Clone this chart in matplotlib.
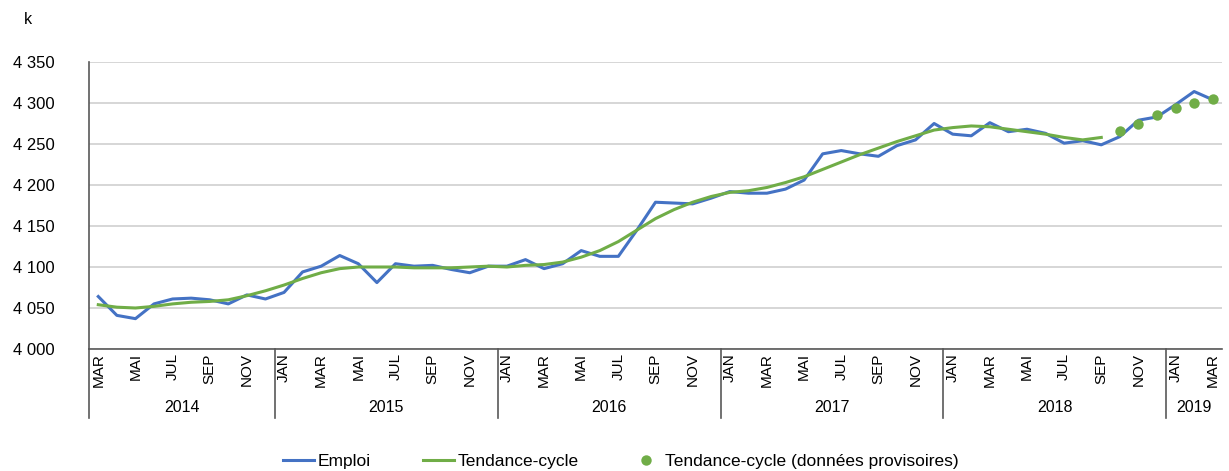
import numpy as np
import matplotlib
matplotlib.use("Agg")
import matplotlib.pyplot as plt
from matplotlib.transforms import blended_transform_factory

BLUE, GREEN, GRID, AXIS = "#4472C4", "#70AD47", "#d0d0d0", "#595959"
FONT = ["Liberation Sans", "DejaVu Sans"]

MOIS = ["JAN", "FEV", "MAR", "AVR", "MAI", "JUN", "JUL", "AOU", "SEP", "OCT", "NOV", "DEC"]
years = [2014] * 10 + [2015] * 12 + [2016] * 12 + [2017] * 12 + [2018] * 12 + [2019] * 3
months = MOIS[2:] + MOIS * 4 + MOIS[:3]

emploi = [4064, 4041, 4037, 4055, 4061, 4062, 4060, 4055, 4066, 4061,
          4069, 4094, 4101, 4114, 4104, 4081, 4104, 4101, 4102, 4097, 4093, 4101,
          4101, 4109, 4098, 4104, 4120, 4113, 4113, 4145, 4179, 4178, 4177, 4184,
          4192, 4190, 4190, 4195, 4206, 4238, 4242, 4238, 4235, 4248, 4255, 4275,
          4262, 4260, 4276, 4265, 4268, 4263, 4251, 4254, 4249, 4259, 4279, 4283,
          4298, 4314, 4304]

tendance = [4054, 4051, 4050, 4052, 4055, 4057, 4058, 4060, 4065, 4071,
            4078, 4086, 4093, 4098, 4100, 4100, 4100, 4099, 4099, 4099, 4100, 4101,
            4100, 4102, 4103, 4106, 4112, 4120, 4131, 4145, 4159, 4170, 4179, 4186,
            4191, 4193, 4197, 4203, 4210, 4219, 4228, 4237, 4245, 4253, 4260, 4267,
            4270, 4272, 4271, 4268, 4265, 4262, 4258, 4255, 4258] + [np.nan] * 6

provisoires = [np.nan] * 55 + [4266, 4275, 4285, 4294, 4300, 4305]

yticks = [4000, 4050, 4100, 4150, 4200, 4250, 4300, 4350]

x = np.arange(len(months))

fig = plt.figure(figsize=(12.29, 4.71), dpi=100, facecolor="white")
ax = fig.add_axes([89 / 1229, 1 - 349 / 471, (1222 - 89) / 1229, (349 - 62) / 471])

ax.plot(x, emploi, color=BLUE, lw=2.2, label="Emploi", zorder=3)
ax.plot(x, tendance, color=GREEN, lw=2.2, label="Tendance-cycle", zorder=4)
ax.plot(x, provisoires, "o", color=GREEN, ms=7.5, mec="none",
        label="Tendance-cycle (données provisoires)", zorder=5)

ax.set_xlim(-0.5, len(months) - 0.5)
ax.set_ylim(yticks[0], yticks[-1])
ax.set_yticks(yticks, [f"{v // 1000} {v % 1000:03d}" for v in yticks],
              fontsize=12, family=FONT)
ax.tick_params(axis="y", length=0, pad=24.5)
ax.yaxis.grid(True, color=GRID, lw=1.2)
ax.set_axisbelow(True)

for s in ["top", "right"]:
    ax.spines[s].set_visible(False)
for s in ["left", "bottom"]:
    ax.spines[s].set_color(AXIS)
    ax.spines[s].set_linewidth(1.2)

# month ticks every other month
shown = x[::2]
ax.set_xticks(shown, [months[i] for i in shown], rotation=90,
              fontsize=11, family=FONT)
ax.tick_params(axis="x", length=0, pad=3)

# year separators and labels
tr = blended_transform_factory(ax.transData, ax.transAxes)
bounds = [0] + [i for i in range(1, len(years)) if years[i] != years[i - 1]]
for b in bounds:
    ax.plot([b - 0.5, b - 0.5], [0, -0.24], color=AXIS, lw=1.2,
            transform=tr, clip_on=False)
for y in sorted(set(years)):
    idx = [i for i, v in enumerate(years) if v == y]
    ax.text((idx[0] + idx[-1]) / 2, -0.205, str(y), transform=tr,
            ha="center", va="center", fontsize=11.5, family=FONT)

fig.text(28 / 1229, 1 - 20 / 471, "k", ha="center", va="center",
         fontsize=11.5, family=FONT)

fig.legend(loc="center", bbox_to_anchor=(621 / 1229, 1 - 461 / 471), ncol=3,
           frameon=False, prop={"family": FONT, "size": 12.5},
           handlelength=1.8, handletextpad=0.2, columnspacing=3.0)

fig.savefig("out.png", dpi=100, facecolor="white")
